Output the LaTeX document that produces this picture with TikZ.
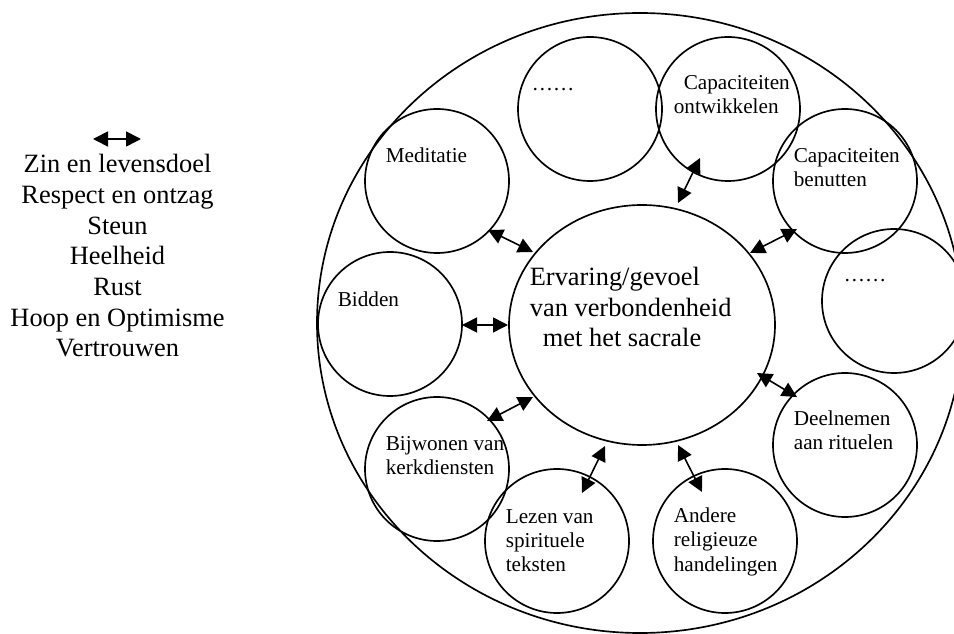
\documentclass[tikz,border=0pt]{standalone}
\usepackage{fontspec}
\setmainfont{Liberation Serif}
\usetikzlibrary{shapes.geometric,arrows.meta,calc}
\begin{document}
\begin{tikzpicture}[x=0.75pt,y=-0.75pt,
  line width=1.25pt,
  ring/.style={draw, circle, minimum size=108pt, inner sep=0pt, outer sep=0pt},
  bigtext/.style={font=\fontsize{19.8}{23}\selectfont, inner sep=0pt},
  smalltext/.style={font=\fontsize{15.9}{18}\selectfont, inner sep=0pt, align=left, anchor=base west},
  link/.style={line width=1.2pt, arrows={Triangle[length=11.25pt,width=11.25pt]-Triangle[length=11.25pt,width=11.25pt]}}]
\useasboundingbox (0,0) rectangle (954,634);
\clip (0,0) rectangle (954,634);

% outer boundary and the central experience
\node[draw, ellipse, minimum width=484.5pt, minimum height=465pt, inner sep=0pt, outer sep=0pt] (outer) at (640,323) {};
\node[draw, ellipse, minimum width=199.5pt, minimum height=180pt, inner sep=0pt, outer sep=0pt] (core) at (642,325) {};
% multi-line labels are placed by the baseline of their last line
\node[bigtext, align=left, anchor=base west] (coretext) at (529,347)
  {Ervaring/gevoel\\van verbondenheid\\\hspace*{9.8pt}met het sacrale};

% surrounding practices
\node[ring] (med)   at (437,181) {};
\node[ring] (dotsA) at (590,109) {};
\node[ring] (ontw)  at (728,109) {};
\node[ring] (benut) at (845,181) {};
\node[ring] (dotsB) at (894,301) {};
\node[ring] (bid)   at (390,324) {};
\node[ring] (bijw)  at (437,469) {};
\node[ring] (lez)   at (557,541) {};
\node[ring] (andr)  at (725,541) {};
\node[ring] (deel)  at (845,445) {};

\node[smalltext] (medtext)   at (385,163) {Meditatie};
\node[smalltext] (dotsAtext) at (531,91)  {……};
\node[smalltext] (ontwtext)  at (673,114) {\hspace*{7.5pt}Capaciteiten\\ontwikkelen};
\node[smalltext] (benuttext) at (793,186.5) {Capaciteiten\\benutten};
\node[smalltext] (dotsBtext) at (843,282) {……};
\node[smalltext] (bidtext)   at (337,307) {Bidden};
\node[smalltext] (bijwtext)  at (385,474.5) {Bijwonen van\\kerkdiensten};
\node[smalltext] (leztext)   at (505,571.5) {Lezen van\\spirituele\\teksten};
\node[smalltext] (andrtext)  at (673,571) {Andere\\religieuze\\handelingen};
\node[smalltext] (deeltext)  at (793,450) {Deelnemen\\aan rituelen};

% two-way links between each practice and the core
\draw[link] ($(med.center)+(51,49)$)    -- ($(core.center)+(-109,-73)$);
\draw[link] ($(bid.center)+(72,1)$)     -- ($(core.center)+(-134,0)$);
\draw[link] ($(ontw.center)+(-28,49)$)  -- ($(core.center)+(36,-122)$);
\draw[link] ($(benut.center)+(-48,48)$) -- ($(core.center)+(108,-72)$);
\draw[link] ($(deel.center)+(-48,-48)$) -- ($(core.center)+(115,48)$);
\draw[link] ($(andr.center)+(-23,-49)$) -- ($(core.center)+(36,120)$);
\draw[link] ($(lez.center)+(25,-48)$)   -- ($(core.center)+(-37,121)$);
\draw[link] ($(bijw.center)+(50,-48)$)  -- ($(core.center)+(-109,72)$);

% key on the left
\coordinate (keyL) at (93,139);
\coordinate (keyR) at (141,139);
\draw[link] (keyL) -- (keyR);
\node[bigtext, align=center, anchor=base] (key) at (117.5,357)
  {Zin en levensdoel\\Respect en ontzag\\Steun\\Heelheid\\Rust\\Hoop en Optimisme\\Vertrouwen};
\end{tikzpicture}
\end{document}
